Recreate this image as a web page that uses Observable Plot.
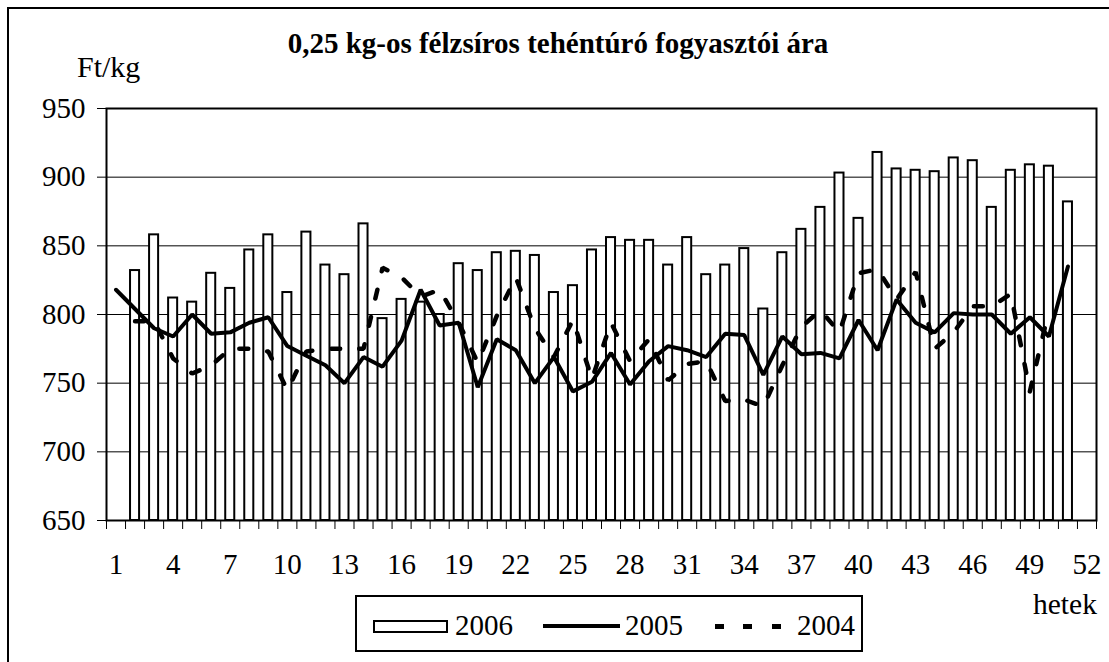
<!DOCTYPE html>
<html>
<head>
<meta charset="utf-8">
<script src="https://cdn.jsdelivr.net/npm/d3@7"></script>
<script src="https://cdn.jsdelivr.net/npm/@observablehq/plot@0.6"></script>
<style>
  html, body { margin: 0; padding: 0; background: #fff; }
  #wrap { position: relative; width: 1109px; height: 662px; overflow: hidden; font-family: "Liberation Serif", "Times New Roman", serif; color: #000; }
  #border { position: absolute; left: 7px; top: 7px; width: 1120px; height: 680px; border: 2px solid #000; box-sizing: border-box; }
  #chart { position: absolute; left: 0; top: 0; }
  #chart svg text { font-family: "Liberation Serif", "Times New Roman", serif !important; }
  .txt { position: absolute; white-space: nowrap; line-height: 1; font-family: "Liberation Serif", "Times New Roman", serif; }
  #title { left: 0; width: 1116px; text-align: center; top: 29px; font-weight: bold; font-size: 29px; }
  #unit { left: 77px; top: 52px; font-size: 30px; }
  #hetek { left: 1033px; top: 590px; font-size: 29.5px; }
  #legend { position: absolute; left: 355px; top: 595px; width: 508px; height: 57px; border: 2px solid #000; box-sizing: border-box; background: #fff; font-family: "Liberation Serif", "Times New Roman", serif; }
  .sw { position: absolute; }
  .lt { position: absolute; top: 14px; font-size: 29px; line-height: 1; }
</style>
</head>
<body>
<div id="wrap">
  <div id="border"></div>
  <div id="chart"></div>
  <div class="txt" id="title">0,25 kg-os félzsíros tehéntúró fogyasztói ára</div>
  <div class="txt" id="unit">Ft/kg</div>
  <div class="txt" id="hetek">hetek</div>
  <div id="legend">
    <div class="sw" style="left:16px;top:23px;width:75px;height:13px;border:2px solid #000;box-sizing:border-box;"></div>
    <div class="lt" style="left:98px;">2006</div>
    <div class="sw" style="left:186px;top:27px;width:77px;height:4px;background:#000;"></div>
    <div class="lt" style="left:268px;">2005</div>
    <div class="sw" style="left:358px;top:27px;width:9px;height:5px;background:#000;"></div>
    <div class="sw" style="left:386px;top:27px;width:9px;height:5px;background:#000;"></div>
    <div class="sw" style="left:415px;top:27px;width:9px;height:5px;background:#000;"></div>
    <div class="lt" style="left:440px;">2004</div>
  </div>
</div>
<script>
// 2006 weekly prices (bars), weeks 2..51
const weeks2006 = [2,3,4,5,6,7,8,9,10,11,12,13,14,15,16,17,18,19,20,21,22,23,24,25,26,27,28,29,30,31,32,33,34,35,36,37,38,39,40,41,42,43,44,45,46,47,48,49,50,51];
const values2006 = [832,858,812,809,830,819,847,858,816,860,836,829,866,797,811,809,800,837,832,845,846,843,816,821,847,856,854,854,836,856,829,836,848,804,845,862,878,903,870,918,906,905,904,914,912,878,905,909,908,882];

// 2005 weekly prices (solid line), weeks 1..51
const weeks2005 = [1,2,3,4,5,6,7,8,9,10,11,12,13,14,15,16,17,18,19,20,21,22,23,24,25,26,27,28,29,30,31,32,33,34,35,36,37,38,39,40,41,42,43,44,45,46,47,48,49,50,51];
const values2005 = [818,804,790,784,800,786,787,794,798,777,770,763,750,769,762,781,818,792,794,747,782,774,750,769,744,751,772,749,766,777,774,769,786,785,756,784,771,772,768,796,774,811,794,787,801,800,800,786,798,784,835];

// 2004 weekly prices (dashed line), weeks 2..50
const weeks2004 = [2,3,4,5,6,7,8,9,10,11,12,13,14,15,16,17,18,19,20,21,22,23,24,25,26,27,28,29,30,31,32,33,34,35,36,37,38,39,40,41,42,43,44,45,46,47,48,49,50];
const values2004 = [795,795,768,757,763,775,775,773,745,773,775,775,775,834,827,813,818,794,765,799,827,790,769,796,753,794,766,782,752,764,766,737,738,733,763,791,803,787,830,833,811,831,775,787,806,806,815,744,803];

// axis ticks
const yTicks = [650,700,750,800,850,900,950];
const xLabelTicks = [1,4,7,10,13,16,19,22,25,28,31,34,37,40,43,46,49,52];
const gridValues = [700,750,800,850,900];

const bars = weeks2006.map((w, i) => ({w, v: values2006[i]}));
const s2005 = weeks2005.map((w, i) => ({w, v: values2005[i]}));
const s2004 = weeks2004.map((w, i) => ({w, v: values2004[i]}));
const boundaries = d3.range(0, 53).map(i => i + 0.5);
const serif = "Liberation Serif";

const plot = Plot.plot({
  width: 1109,
  height: 662,
  marginLeft: 106,
  marginRight: 13,
  marginTop: 108,
  marginBottom: 142,
  style: {fontFamily: serif, color: "#000", background: "transparent"},
  x: {type: "linear", domain: [0.5, 52.5]},
  y: {domain: [650, 950]},
  marks: [
    Plot.ruleY(gridValues, {stroke: "#000", strokeWidth: 1}),
    Plot.rectY(bars, {x1: d => d.w - 0.5, x2: d => d.w + 0.5, y1: 650, y2: "v", fill: "#fff", stroke: "#000", strokeWidth: 2, insetLeft: 5, insetRight: 5}),
    Plot.lineY(s2004, {x: "w", y: "v", stroke: "#000", strokeWidth: 4.5, strokeDasharray: "9,19", strokeLinejoin: "miter"}),
    Plot.lineY(s2005, {x: "w", y: "v", stroke: "#000", strokeWidth: 4, strokeLinejoin: "miter"}),
    Plot.frame({stroke: "#000", strokeWidth: 2}),
    Plot.axisY({ticks: yTicks, tickSize: 9, tickPadding: 12, fontSize: 29, fontFamily: serif, label: null, tickFormat: d => String(d)}),
    Plot.axisX({ticks: boundaries, tickSize: 9, tickFormat: () => "", label: null}),
    Plot.axisX({ticks: xLabelTicks, tickSize: 0, tickPadding: 33, fontSize: 29, fontFamily: serif, label: null, tickFormat: d => String(d)})
  ]
});
document.getElementById("chart").appendChild(plot);
</script>
</body>
</html>
